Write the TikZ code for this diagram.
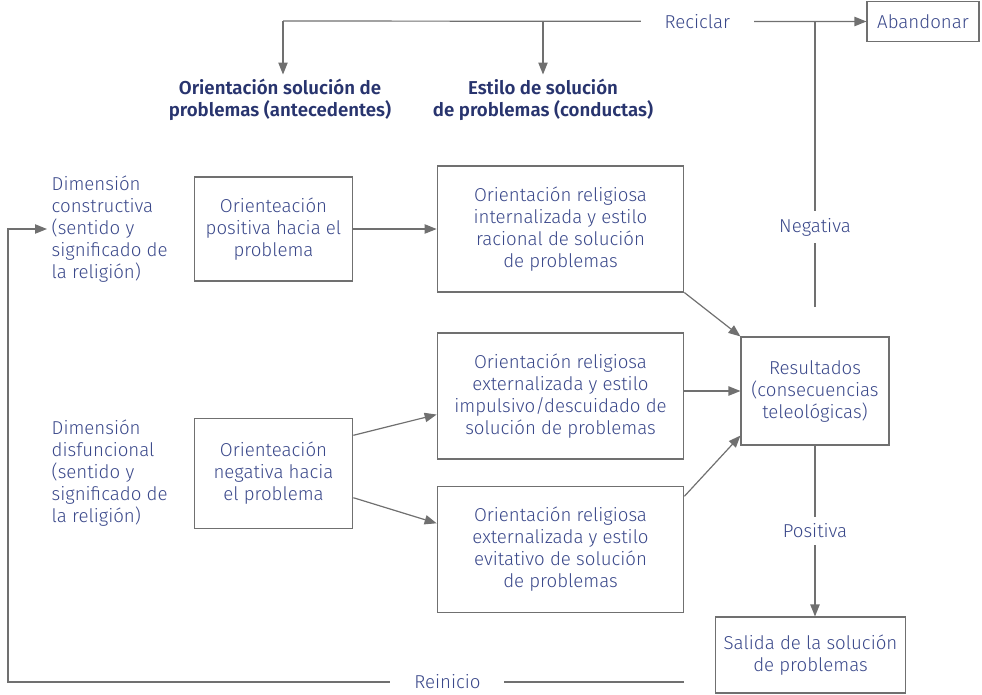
\documentclass[tikz,border=0pt]{standalone}
\usepackage{fontspec}
\setmainfont{Fira Sans}[UprightFont=* Light, BoldFont=* SemiBold]
\usetikzlibrary{arrows.meta}
\definecolor{txtblue}{RGB}{58,72,138}
\definecolor{hdblue}{RGB}{40,52,110}
\definecolor{linegray}{RGB}{112,112,112}

\begin{document}
\begin{tikzpicture}
	 [x=0.75pt,y=-0.75pt,
	  every node/.style={text=txtblue,font=\fontsize{14}{16.5}\selectfont,align=center},
	  head/.style={text=hdblue,font=\fontsize{14}{16.5}\selectfont\bfseries},
	  box/.style={draw=linegray,line width=0.8pt,inner sep=2pt},
	  lbl/.style={fill=white,inner xsep=18pt,inner ysep=5pt},
	  conn/.style={linegray,line width=0.9pt},
	  arr/.style={-{Triangle[length=9pt,width=7pt]}}]

	  \useasboundingbox (0,0) rectangle (982,694);

	  \node[box,minimum width=84pt,minimum height=30pt] (aband) at (923,21.5) {Abandonar};
	  \node[head] (hdant) at (280,100) {Orientación solución de\\problemas (antecedentes)};
	  \node[head] (hdest) at (543,100) {Estilo de solución\\de problemas (conductas)};

	  \node[anchor=west,align=left] (dimcons) at (47,229) {Dimensión\\constructiva\\(sentido y\\significado de\\la religión)};
	  \node[anchor=west,align=left] (dimdis) at (47,473) {Dimensión\\disfuncional\\(sentido y\\significado de\\la religión)};

	  \node[box,minimum width=119pt,minimum height=78pt] (posit) at (273.5,229) {Orienteación\\positiva hacia el\\problema};
	  \node[box,minimum width=119pt,minimum height=82pt] (negat) at (273.5,473.5) {Orienteación\\negativa hacia\\el problema};
	  \node[box,minimum width=185pt,minimum height=94.5pt] (intern) at (560.5,229) {Orientación religiosa\\internalizada y estilo\\racional de solución\\de problemas};
	  \node[box,minimum width=185pt,minimum height=94.5pt] (extimp) at (560.5,396) {Orientación religiosa\\externalizada y estilo\\impulsivo/descuidado de\\solución de problemas};
	  \node[box,minimum width=185pt,minimum height=94pt] (exteva) at (560.5,549.5) {Orientación religiosa\\externalizada y estilo\\evitativo de solución\\de problemas};
	  \node[box,minimum width=111pt,minimum height=81pt] (result) at (815,391) {Resultados\\(consecuencias\\teleológicas)};
	  \node[box,minimum width=143pt,minimum height=57pt] (salida) at (810.5,655) {Salida de la solución\\de problemas};

	  \coordinate (tl) at (283,21);
	  \coordinate (tm) at (543,21);
	  \coordinate (tr) at (815,21);
	  \coordinate (ng) at (815,307);
	  \coordinate (rs) at (684,682);
	  \coordinate (rc) at (8,682);

	\foreach \from/\to in {posit.east/intern.west,intern.south east/result.north west,tl/tl |- hdant.north,tm/tm |- hdest.north}
    \draw[conn,arr] (\from) -- (\to);

	\draw[conn,arr] (extimp.east |- result.west) -- (result.west);
	\draw[conn,arr] ([yshift=-7.5pt]exteva.north east) -- ([yshift=7.5pt]result.south west);
	\draw[conn,arr] ([yshift=-12.75pt]negat.north east) -- ([yshift=33.75pt]extimp.south west);
	\draw[conn,arr] ([yshift=23.25pt]negat.south east) -- ([yshift=-27.75pt]exteva.north west);

	\draw[conn,arr] (tl) -- node[lbl,pos=0.71] {Reciclar} (aband.west);
	\draw[conn] (ng) -- node[lbl,pos=0.28] {Negativa} (tr);
	\draw[conn,arr] (result.south) -- node[lbl] {Positiva} (result.south |- salida.north);
	\draw[conn,arr] (rs) -- node[lbl,pos=0.35] {Reinicio} (rc) |- (dimcons.west);

\end{tikzpicture}
\end{document}
